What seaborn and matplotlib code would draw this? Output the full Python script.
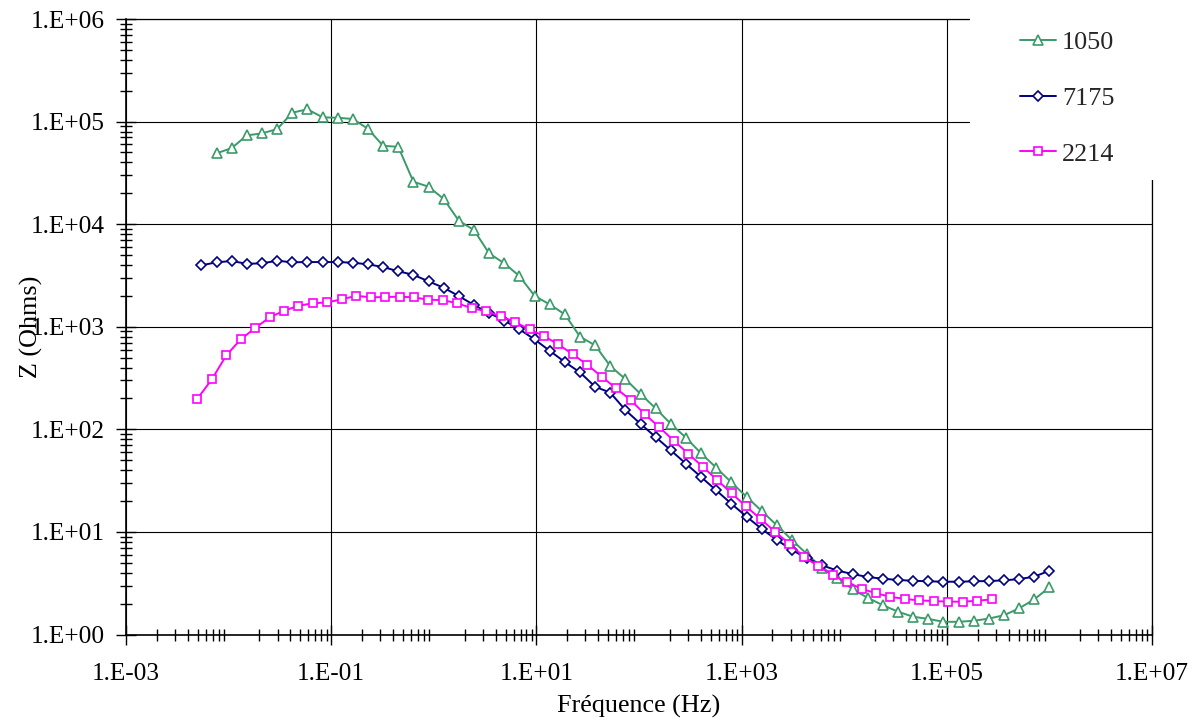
import numpy as np
import pandas as pd
import matplotlib
matplotlib.use("Agg")
import matplotlib.pyplot as plt
from matplotlib.patches import Rectangle
from matplotlib.ticker import LogLocator, NullFormatter, FixedFormatter, FixedLocator
import seaborn as sns

# ---------------- data ----------------
freq_a = [5.43e-3, 7.63e-3, 1.072e-2, 1.506e-2, 2.115e-2, 2.972e-2, 4.174e-2, 5.864e-2,
          8.236e-2, 0.1157, 0.1625, 0.2283, 0.3207, 0.4505, 0.6328, 0.8889, 1.249, 1.754,
          2.464, 3.462, 4.862, 6.830, 9.594, 13.48, 18.93, 26.59, 37.35, 52.48, 73.71,
          103.5, 145.4, 204.3, 287.0, 403.2, 566.4, 795.6, 1117, 1570, 2205, 3097, 4351,
          6112, 8586, 12060, 16940, 23800, 33430, 46960, 65970, 92680, 130200, 182900,
          256900, 360900, 507000, 712200, 1000000]

freq_b = [4.966e-3, 6.866e-3, 9.495e-3, 1.3125e-2, 1.815e-2, 2.51e-2, 3.47e-2, 4.80e-2,
          6.633e-2, 9.175e-2, 0.1269, 0.1754, 0.2425, 0.3353, 0.4637, 0.6410, 0.8867, 1.226,
          1.695, 2.344, 3.240, 4.480, 6.196, 8.566, 11.84, 16.38, 22.65, 31.31, 43.30, 59.87,
          82.78, 114.4, 158.2, 218.9, 302.6, 418.4, 578.6, 799.8, 1106, 1530, 2114, 2924,
          4044, 5590, 7729, 10690, 14780, 20430, 28250, 39070, 54020, 74690, 103300,
          142800, 197400, 273000]

z_1050 = [49000, 55200, 73400, 76700, 84500, 122000, 132000, 110000, 109000, 106000,
          85000, 58000, 56800, 25900, 23200, 17600, 10800, 8760, 5190, 4150, 3120, 2000,
          1650, 1320, 800, 659, 414, 309, 221, 160, 113, 82.8, 58.3, 42.2, 30.4, 22.0,
          16.0, 11.6, 8.34, 6.05, 4.48, 3.58, 2.76, 2.28, 1.93, 1.67, 1.49, 1.42, 1.33,
          1.33, 1.36, 1.43, 1.54, 1.80, 2.20, 2.88]

z_7175 = [3970, 4250, 4370, 4110, 4150, 4400, 4250, 4270, 4270, 4270, 4210, 4060, 3820,
          3470, 3210, 2770, 2400, 1990, 1630, 1360, 1150, 944, 753, 583, 453, 359, 260,
          228, 154, 113, 84.1, 62.4, 46.2, 34.3, 25.4, 18.8, 14.1, 10.7, 8.34, 6.67, 5.53,
          4.72, 4.19, 3.89, 3.63, 3.50, 3.40, 3.34, 3.30, 3.27, 3.27, 3.30, 3.32, 3.37,
          3.47, 3.66, 4.19]

z_2214 = [199, 307, 526, 754, 971, 1235, 1432, 1603, 1692, 1730, 1850, 2005, 1935, 1950,
          1962, 1935, 1833, 1820, 1692, 1520, 1413, 1270, 1111, 944, 811, 673, 538, 426,
          326, 251, 193, 140, 104.5, 77.4, 57.8, 43.2, 32.0, 23.8, 17.7, 13.4, 10.05, 7.67,
          5.73, 4.62, 3.78, 3.23, 2.79, 2.52, 2.33, 2.22, 2.15, 2.12, 2.09, 2.09, 2.13, 2.20]

series_names = ["1050", "7175", "2214"]
x_ticks = [1e-3, 1e-1, 1e1, 1e3, 1e5, 1e7]
x_tick_labels = ["1.E-03", "1.E-01", "1.E+01", "1.E+03", "1.E+05", "1.E+07"]
y_ticks = [1e0, 1e1, 1e2, 1e3, 1e4, 1e5, 1e6]
y_tick_labels = ["1.E+00", "1.E+01", "1.E+02", "1.E+03", "1.E+04", "1.E+05", "1.E+06"]

# ---------------- style ----------------
sns.set_theme(style="white")
plt.rcParams["font.family"] = ["Liberation Serif", "DejaVu Serif"]
plt.rcParams["axes.unicode_minus"] = False

W, H = 1202, 722
fig = plt.figure(figsize=(W / 100, H / 100), dpi=100)
L, R, T, B = 126, 1152, 19, 634.5
ax = fig.add_axes([L / W, 1 - B / H, (R - L) / W, (B - T) / H])
ax.set_facecolor("white")

df_1050 = pd.DataFrame({"f": freq_a[1:], "z": z_1050})
df_7175 = pd.DataFrame({"f": freq_a, "z": z_7175})
df_2214 = pd.DataFrame({"f": freq_b, "z": z_2214})

specs = [
    (df_1050, series_names[0], "#3A9A6A", "^", 7.0),
    (df_7175, series_names[1], "#000080", "D", 4.8),
    (df_2214, series_names[2], "#FF00FF", "s", 6.2),
]
for df, name, col, mk, ms in specs:
    sns.lineplot(data=df, x="f", y="z", ax=ax, color=col, lw=1.4, marker=mk,
                 markersize=ms, markerfacecolor="white", markeredgecolor=col,
                 markeredgewidth=1.2, label=name, estimator=None, sort=False)

ax.set_xscale("log")
ax.set_yscale("log")
ax.set_xlim(1e-3, 1e7)
ax.set_ylim(1e0, 1e6)

ax.xaxis.set_major_locator(FixedLocator(x_ticks))
ax.xaxis.set_major_formatter(FixedFormatter(x_tick_labels))
ax.yaxis.set_major_locator(FixedLocator(y_ticks))
ax.yaxis.set_major_formatter(FixedFormatter(y_tick_labels))
ax.xaxis.set_minor_locator(LogLocator(base=10, subs=np.arange(2, 10), numticks=30))
ax.yaxis.set_minor_locator(LogLocator(base=10, subs=np.arange(2, 10), numticks=30))
ax.xaxis.set_minor_formatter(NullFormatter())
ax.yaxis.set_minor_formatter(NullFormatter())

ax.grid(True, which="major", color="black", lw=0.8)
ax.grid(False, which="minor")
ax.set_axisbelow(True)

for s in ax.spines.values():
    s.set_color("black")
    s.set_linewidth(0.9)
ax.spines["left"].set_linewidth(1.2)
ax.spines["bottom"].set_linewidth(1.2)

ax.tick_params(axis="both", which="major", direction="inout", length=14, width=1.0,
               color="black", labelsize=18.2, labelcolor="black")
ax.tick_params(axis="both", which="minor", direction="inout", length=9, width=1.0,
               color="black")
ax.tick_params(axis="x", which="major", pad=13.5)
ax.tick_params(axis="y", which="major", pad=8.3)
ax.tick_params(axis="both", which="both", top=False, right=False, bottom=True, left=True)

ax.set_xlabel("Fréquence (Hz)", fontsize=18.8, color="black")
ax.set_ylabel("Z (Ohms)", fontsize=18.8, color="black")
ax.xaxis.set_label_coords(0.5, -0.098)
ax.yaxis.set_label_coords(-0.081, 0.5)

# legend with white background block in the top-right corner
leg0 = ax.get_legend()
if leg0 is not None:
    leg0.remove()
handles, labels = ax.get_legend_handles_labels()
fig.patches.append(Rectangle((970 / W, 1 - 180 / H), 1 - 970 / W, 180 / H,
                             transform=fig.transFigure, facecolor="white",
                             edgecolor="none", zorder=2))
leg = fig.legend(handles, labels, loc="upper left",
                 bbox_to_anchor=(1020 / W, 1 - 31 / H), frameon=False,
                 borderpad=0, borderaxespad=0, handlelength=1.36, handletextpad=0.25,
                 labelspacing=1.24, prop={"family": "Liberation Serif", "size": 18.8})
leg.set_zorder(3)

fig.savefig("out.png", dpi=100, facecolor="white")
